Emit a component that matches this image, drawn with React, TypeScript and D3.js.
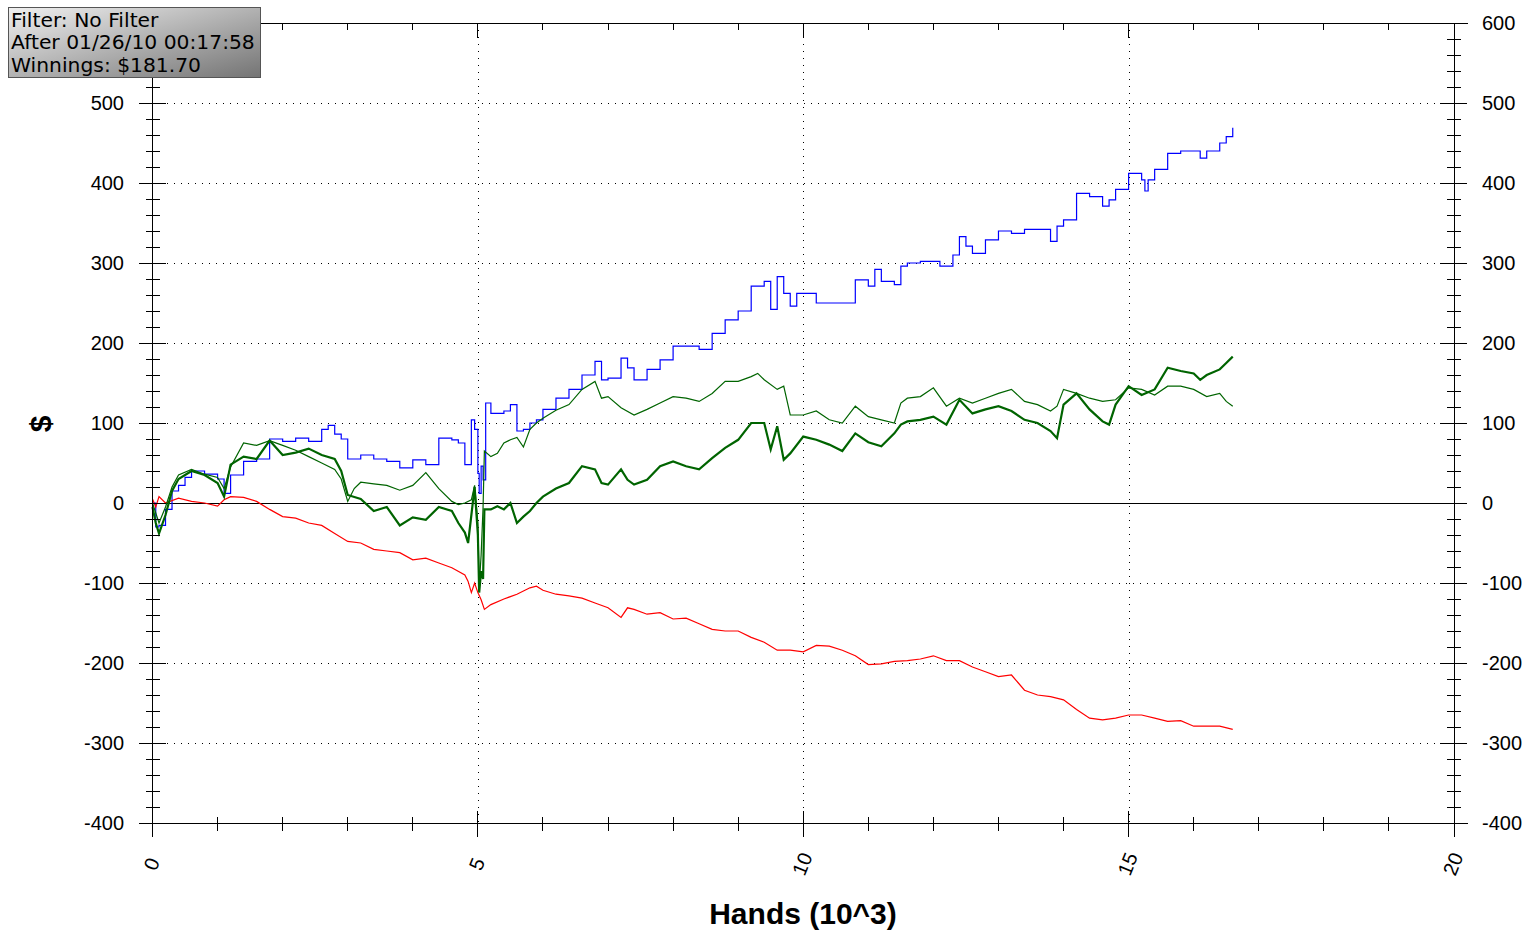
import React from 'react';
import * as d3 from 'd3';

type Pt = [number, number];

// hands (thousands) vs. dollars
const blueSeries: Pt[] = [
  [0, 0], [0.05, -30], [0.1, -28], [0.2, -8], [0.3, 15], [0.4, 22], [0.5, 32], [0.6, 40], [0.8, 36], [1.0, 30],
  [1.1, 12], [1.2, 35], [1.4, 52], [1.6, 55], [1.8, 80], [2.0, 77], [2.2, 81], [2.4, 77], [2.6, 92], [2.7, 97],
  [2.8, 86], [2.9, 80], [3.0, 55], [3.2, 60], [3.4, 55], [3.6, 52], [3.8, 44], [4.0, 54], [4.2, 48], [4.4, 81],
  [4.6, 79], [4.7, 75], [4.8, 48], [4.9, 104], [4.95, 92], [5.0, 37], [5.02, 12], [5.05, 46], [5.08, 29], [5.12, 125],
  [5.2, 112], [5.3, 112], [5.4, 115], [5.5, 123], [5.6, 90], [5.7, 92], [5.8, 100], [5.9, 104], [6.0, 117], [6.2, 131],
  [6.4, 142], [6.6, 160], [6.8, 177], [6.9, 154], [7.0, 156], [7.2, 181], [7.3, 169], [7.4, 154], [7.6, 167], [7.8, 179],
  [8.0, 196], [8.2, 196], [8.4, 192], [8.6, 212], [8.8, 229], [9.0, 240], [9.2, 271], [9.4, 277], [9.5, 242], [9.6, 283],
  [9.7, 262], [9.8, 246], [9.9, 262], [10.0, 262], [10.2, 250], [10.4, 250], [10.6, 250], [10.8, 279], [11.0, 271], [11.1, 292],
  [11.2, 277], [11.4, 273], [11.5, 296], [11.6, 300], [11.8, 302], [12.0, 302], [12.1, 296], [12.2, 296], [12.3, 310], [12.4, 333],
  [12.5, 321], [12.6, 312], [12.8, 329], [13.0, 340], [13.2, 337], [13.4, 342], [13.6, 342], [13.8, 327], [13.9, 346], [14.0, 354],
  [14.2, 387], [14.4, 383], [14.6, 371], [14.7, 379], [14.8, 392], [15.0, 412], [15.2, 404], [15.25, 390], [15.3, 404], [15.4, 417],
  [15.6, 437], [15.8, 440], [16.0, 440], [16.1, 431], [16.2, 440], [16.4, 450], [16.5, 458], [16.6, 469],
];

const redSeries: Pt[] = [
  [0, 5], [0.05, -5], [0.1, 8], [0.2, 0], [0.4, 6], [0.6, 2], [0.8, 0], [1.0, -4], [1.1, 4], [1.2, 8],
  [1.4, 7], [1.6, 2], [1.8, -8], [2.0, -17], [2.2, -19], [2.4, -25], [2.6, -28], [2.8, -38], [3.0, -48], [3.2, -50],
  [3.4, -58], [3.6, -60], [3.8, -62], [4.0, -71], [4.2, -69], [4.4, -75], [4.6, -81], [4.8, -90], [4.85, -98], [4.9, -112],
  [4.95, -100], [5.0, -112], [5.05, -121], [5.1, -133], [5.2, -127], [5.4, -120], [5.6, -114], [5.8, -106], [5.9, -104], [6.0, -109],
  [6.2, -114], [6.4, -116], [6.6, -119], [6.8, -125], [7.0, -131], [7.2, -143], [7.3, -131], [7.4, -133], [7.6, -139], [7.8, -137],
  [8.0, -145], [8.2, -144], [8.4, -151], [8.6, -158], [8.8, -160], [9.0, -160], [9.2, -168], [9.4, -174], [9.6, -184], [9.8, -184],
  [10.0, -186], [10.2, -178], [10.4, -179], [10.6, -184], [10.8, -191], [11.0, -202], [11.2, -201], [11.4, -198], [11.6, -197], [11.8, -195],
  [12.0, -191], [12.2, -197], [12.4, -197], [12.6, -205], [12.8, -211], [13.0, -217], [13.2, -215], [13.4, -234], [13.6, -240], [13.8, -242],
  [14.0, -246], [14.2, -258], [14.4, -269], [14.6, -271], [14.8, -269], [15.0, -265], [15.2, -265], [15.4, -269], [15.6, -273], [15.8, -272],
  [16.0, -279], [16.2, -279], [16.4, -279], [16.6, -283],
];

const thickGreenSeries: Pt[] = [
  [0, -5], [0.05, -25], [0.1, -38], [0.2, -15], [0.3, 15], [0.4, 30], [0.5, 35], [0.6, 40], [0.8, 35], [1.0, 25],
  [1.1, 8], [1.2, 48], [1.4, 58], [1.6, 55], [1.8, 78], [2.0, 60], [2.2, 63], [2.4, 68], [2.6, 60], [2.8, 55],
  [2.9, 40], [3.0, 10], [3.2, 5], [3.4, -10], [3.6, -5], [3.8, -28], [4.0, -18], [4.2, -21], [4.4, -5], [4.6, -10],
  [4.7, -25], [4.8, -37], [4.85, -50], [4.9, -15], [4.95, 20], [5.0, -40], [5.02, -112], [5.05, -85], [5.08, -95], [5.1, -8],
  [5.2, -8], [5.3, -4], [5.4, -8], [5.5, 0], [5.6, -25], [5.7, -17], [5.8, -10], [5.9, 0], [6.0, 8], [6.2, 18],
  [6.4, 25], [6.6, 46], [6.8, 42], [6.9, 25], [7.0, 23], [7.2, 42], [7.3, 29], [7.4, 23], [7.6, 29], [7.8, 46],
  [8.0, 52], [8.2, 46], [8.4, 42], [8.6, 56], [8.8, 69], [9.0, 79], [9.2, 100], [9.4, 100], [9.5, 67], [9.6, 96],
  [9.7, 54], [9.8, 62], [10.0, 83], [10.2, 79], [10.4, 73], [10.6, 65], [10.8, 87], [11.0, 76], [11.2, 71], [11.4, 87],
  [11.5, 98], [11.6, 102], [11.8, 104], [12.0, 108], [12.2, 98], [12.4, 129], [12.6, 112], [12.8, 117], [13.0, 121], [13.2, 115],
  [13.4, 104], [13.6, 100], [13.8, 90], [13.9, 81], [14.0, 123], [14.2, 137], [14.4, 117], [14.6, 102], [14.7, 98], [14.8, 123],
  [15.0, 146], [15.2, 135], [15.4, 142], [15.6, 169], [15.8, 165], [16.0, 162], [16.1, 154], [16.2, 160], [16.4, 167], [16.5, 175],
  [16.6, 183],
];

const thinGreenSeries: Pt[] = [
  [0, 0], [0.1, -25], [0.2, -5], [0.3, 20], [0.4, 35], [0.6, 42], [0.8, 36], [1.0, 32], [1.1, 18], [1.2, 45],
  [1.4, 75], [1.6, 72], [1.8, 78], [2.0, 72], [2.2, 66], [2.4, 58], [2.6, 50], [2.8, 42], [2.9, 30], [3.0, 2],
  [3.1, 18], [3.2, 26], [3.4, 24], [3.6, 22], [3.8, 16], [4.0, 22], [4.2, 38], [4.4, 18], [4.6, 2], [4.7, -2],
  [4.8, 0], [4.9, 4], [4.95, 22], [5.0, -25], [5.02, -105], [5.05, -65], [5.08, -5], [5.1, 65], [5.2, 58], [5.3, 62],
  [5.4, 75], [5.5, 79], [5.6, 82], [5.7, 70], [5.8, 92], [5.9, 100], [6.0, 106], [6.2, 116], [6.4, 123], [6.6, 142],
  [6.8, 152], [6.9, 131], [7.0, 133], [7.2, 119], [7.4, 110], [7.6, 117], [7.8, 125], [8.0, 133], [8.2, 131], [8.4, 127],
  [8.6, 137], [8.8, 152], [9.0, 152], [9.2, 158], [9.3, 162], [9.4, 154], [9.6, 142], [9.7, 146], [9.8, 110], [10.0, 110],
  [10.2, 115], [10.4, 104], [10.6, 100], [10.8, 121], [11.0, 108], [11.2, 104], [11.4, 100], [11.5, 125], [11.6, 131], [11.8, 133],
  [12.0, 144], [12.2, 121], [12.4, 131], [12.6, 125], [12.8, 131], [13.0, 137], [13.2, 142], [13.4, 127], [13.6, 123], [13.8, 115],
  [13.9, 121], [14.0, 142], [14.2, 137], [14.4, 131], [14.6, 127], [14.8, 129], [15.0, 144], [15.2, 142], [15.4, 135], [15.6, 146],
  [15.8, 146], [16.0, 142], [16.2, 133], [16.4, 137], [16.5, 127], [16.6, 121],
];

const xTicks = [0, 5, 10, 15, 20];
const yTicks = [-400, -300, -200, -100, 0, 100, 200, 300, 400, 500, 600];
const legendLines = ['Filter: No Filter', 'After 01/26/10 00:17:58', 'Winnings: $181.70'];

const W = 1535;
const H = 942;
const labelFont = '"Liberation Sans", Arial, sans-serif';

export default function App() {
  const x = d3.scaleLinear().domain([0, 20]).range([152.5, 1454]);
  const y = d3.scaleLinear().domain([-400, 600]).range([823, 23]);
  const line = d3.line<Pt>().x(d => x(d[0])).y(d => y(d[1]));
  // the blue line moves in clear stairs in the original
  const stepLine = d3.line<Pt>().x(d => x(d[0])).y(d => y(d[1])).curve(d3.curveStepAfter);

  const xMinor = d3.range(0, 21, 1).filter(v => v % 5 !== 0);
  const yMinor = d3.range(-400, 601, 20).filter(v => v % 100 !== 0);
  const [x0, x1] = x.range();
  const [yb, yt] = y.range();

  return (
    <svg width={W} height={H} style={{ position: 'absolute', left: 0, top: 0, background: '#fff' }}>
      <defs>
        <linearGradient id="legendFill" x1="0" y1="0" x2="1" y2="1">
          <stop offset="0" stopColor="#f0f0f0" />
          <stop offset="1" stopColor="#747474" />
        </linearGradient>
      </defs>

      {/* grid */}
      <g stroke="#000" strokeWidth={1} strokeDasharray="1,6" shapeRendering="crispEdges">
        {yTicks.filter(v => v !== 0 && v !== -400 && v !== 600).map(v => (
          <line key={`gy${v}`} x1={x0} x2={x1} y1={Math.round(y(v)) + 0.5} y2={Math.round(y(v)) + 0.5} />
        ))}
        {xTicks.filter(v => v !== 0 && v !== 20).map(v => (
          <line key={`gx${v}`} x1={Math.round(x(v)) + 0.5} x2={Math.round(x(v)) + 0.5} y1={yt} y2={yb} />
        ))}
      </g>
      <line x1={x0} x2={x1} y1={Math.round(y(0)) + 0.5} y2={Math.round(y(0)) + 0.5} stroke="#000" strokeWidth={1} />

      {/* series */}
      <path d={stepLine(blueSeries) ?? ''} fill="none" stroke="#0000ff" strokeWidth={1.2} />
      <path d={line(redSeries) ?? ''} fill="none" stroke="#ff0000" strokeWidth={1.2} />
      <path d={line(thinGreenSeries) ?? ''} fill="none" stroke="#006400" strokeWidth={1.2} />
      <path d={line(thickGreenSeries) ?? ''} fill="none" stroke="#006400" strokeWidth={2.2} />

      {/* frame and ticks */}
      <g stroke="#000" strokeWidth={1} shapeRendering="crispEdges">
        <line x1={x0 - 14} x2={x1 + 14} y1={yb} y2={yb} />
        <line x1={x0 - 14} x2={x1 + 14} y1={yt} y2={yt} />
        <line x1={x0} x2={x0} y1={yt} y2={yb + 14} />
        <line x1={x1} x2={x1} y1={yt} y2={yb + 14} />
        {yTicks.map(v => (
          <g key={`yt${v}`}>
            <line x1={x0 - 14} x2={x0 + 13} y1={y(v)} y2={y(v)} />
            <line x1={x1 - 14} x2={x1 + 13} y1={y(v)} y2={y(v)} />
          </g>
        ))}
        {yMinor.map(v => (
          <g key={`ym${v}`}>
            <line x1={x0 - 7} x2={x0 + 7} y1={y(v)} y2={y(v)} />
            <line x1={x1 - 7} x2={x1 + 7} y1={y(v)} y2={y(v)} />
          </g>
        ))}
        {xTicks.map(v => (
          <g key={`xt${v}`}>
            <line x1={x(v)} x2={x(v)} y1={yb - 12} y2={yb + 14} />
            <line x1={x(v)} x2={x(v)} y1={yt} y2={yt + 15} />
          </g>
        ))}
        {xMinor.map(v => (
          <g key={`xm${v}`}>
            <line x1={x(v)} x2={x(v)} y1={yb - 6} y2={yb + 8} />
            <line x1={x(v)} x2={x(v)} y1={yt} y2={yt + 7} />
          </g>
        ))}
      </g>

      {/* tick labels */}
      <g fontFamily={labelFont} fontSize={20} fill="#000">
        {yTicks.filter(v => v !== 600).map(v => (
          <text key={`yl${v}`} x={124} y={y(v)} textAnchor="end" dominantBaseline="central">{v}</text>
        ))}
        {yTicks.map(v => (
          <text key={`yr${v}`} x={1482} y={y(v)} textAnchor="start" dominantBaseline="central">{v}</text>
        ))}
        {xTicks.map(v => (
          <text key={`xl${v}`} transform={`translate(${x(v) - 1},864) rotate(-68)`} textAnchor="middle" dominantBaseline="central">{v}</text>
        ))}
      </g>

      {/* axis titles */}
      <text x={803} y={924} textAnchor="middle" fontFamily={labelFont} fontSize={30} fontWeight="bold">Hands (10^3)</text>
      <text transform="translate(40,424) rotate(-90)" textAnchor="middle" dominantBaseline="central" fontFamily={labelFont} fontSize={30} fontWeight="bold">$</text>

      {/* info box */}
      <rect x={8.5} y={7.5} width={252} height={70} fill="url(#legendFill)" stroke="#555" strokeWidth={1} />
      <g fontFamily='"DejaVu Sans", Verdana, sans-serif' fontSize={20.3} fill="#000">
        {legendLines.map((t, i) => (
          <text key={t} x={11} y={26.5 + i * 22.5}>{t}</text>
        ))}
      </g>
    </svg>
  );
}
